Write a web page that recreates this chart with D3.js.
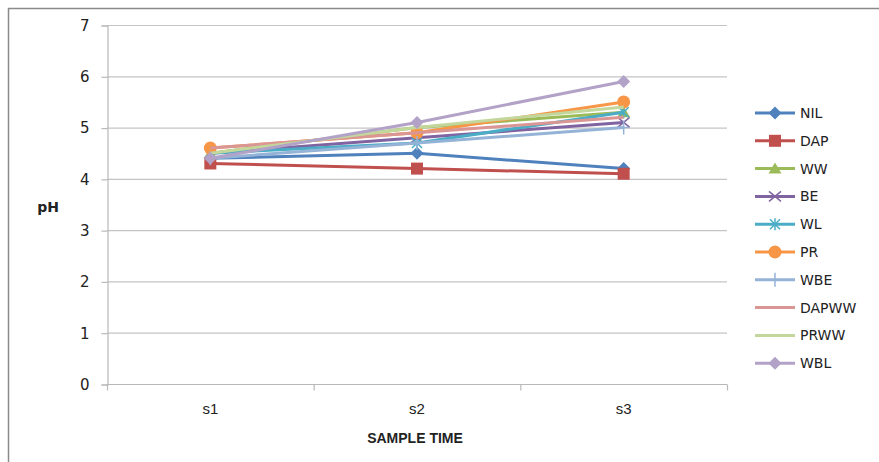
<!DOCTYPE html>
<html>
<head>
<meta charset="utf-8">
<script src="https://cdn.jsdelivr.net/npm/d3@7"></script>
<style>
  html, body { margin: 0; padding: 0; background: #fff; }
  svg { display: block; }
  text { font-family: "Liberation Sans Narrow", "Liberation Sans", Arial, sans-serif; fill: #222; }
</style>
</head>
<body>
<svg id="chart" width="879" height="462"></svg>
<script>
// Sample times on the category axis
const categories = ["s1", "s2", "s3"];
// Treatment names, in legend order
const seriesNames = ["NIL", "DAP", "WW", "BE", "WL", "PR", "WBE", "DAPWW", "PRWW", "WBL"];
// pH readings per treatment at s1, s2, s3
const NIL   = [4.4, 4.5, 4.2];
const DAP   = [4.3, 4.2, 4.1];
const WW    = [4.5, 5.0, 5.3];
const BE    = [4.5, 4.8, 5.1];
const WL    = [4.5, 4.7, 5.3];
const PR    = [4.6, 4.9, 5.5];
const WBE   = [4.4, 4.7, 5.0];
const DAPWW = [4.6, 4.9, 5.2];
const PRWW  = [4.5, 5.0, 5.4];
const WBL   = [4.4, 5.1, 5.9];
const yTicks = [0, 1, 2, 3, 4, 5, 6, 7];

const seriesValues = [NIL, DAP, WW, BE, WL, PR, WBE, DAPWW, PRWW, WBL];
const colors = ["#4F81BD", "#C0504D", "#9BBB59", "#8064A2", "#4BACC6",
                "#F79646", "#95B3D7", "#D99694", "#C3D69B", "#B3A2C7"];
const markers = ["diamond", "square", "triangle", "x", "star", "circle", "plus", "none", "none", "diamond"];

const svg = d3.select("#chart");

// outer chart frame
svg.append("path")
  .attr("d", "M8.5,470 V8.5 H890")
  .attr("fill", "none").attr("stroke", "#8a8a8a").attr("stroke-width", 1.5);

const plotLeft = 107, plotRight = 727, plotTop = 25, plotBottom = 384;

const x = d3.scaleBand().domain(categories).range([plotLeft, plotRight]);
const y = d3.scaleLinear().domain([0, 7]).range([plotBottom, plotTop]);

// horizontal gridlines
svg.append("g").selectAll("line").data(yTicks.filter(d => d > 0)).join("line")
  .attr("x1", plotLeft).attr("x2", plotRight)
  .attr("y1", d => y(d) + 0.5).attr("y2", d => y(d) + 0.5)
  .attr("stroke", "#c4c4c4").attr("stroke-width", 1.2);

// y axis
const yAxis = svg.append("g").attr("transform", `translate(${plotLeft + 0.5},0.5)`)
  .call(d3.axisLeft(y).tickValues(yTicks).tickSize(6).tickPadding(12).tickFormat(d3.format("d")));
yAxis.select(".domain").attr("stroke", "#b8b8b8").attr("stroke-width", 1.2);
yAxis.selectAll(".tick line").attr("stroke", "#b8b8b8").attr("stroke-width", 1.2);
yAxis.selectAll(".tick text").attr("font-size", 15)
  .style("font-family", "'DejaVu Sans', sans-serif").attr("fill", "#333");

// x axis with ticks between categories
const xAxisG = svg.append("g").attr("transform", `translate(0,${plotBottom + 0.5})`);
xAxisG.append("line").attr("x1", plotLeft).attr("x2", plotRight)
  .attr("stroke", "#b8b8b8").attr("stroke-width", 1.2);
const tickPos = categories.map(c => x(c)).concat([x(categories[categories.length - 1]) + x.bandwidth()]);
xAxisG.selectAll("line.tk").data(tickPos).join("line").attr("class", "tk")
  .attr("x1", d => d + 0.5).attr("x2", d => d + 0.5).attr("y1", 0).attr("y2", 6)
  .attr("stroke", "#b8b8b8").attr("stroke-width", 1.2);
xAxisG.selectAll("text").data(categories).join("text")
  .attr("x", d => x(d) + x.bandwidth() / 2).attr("y", 29)
  .attr("text-anchor", "middle").attr("font-size", 15).attr("fill", "#333")
  .text(d => d);

// axis titles
svg.append("text").attr("x", 415).attr("y", 443).attr("text-anchor", "middle")
  .attr("font-size", 14).attr("font-weight", "bold").text("SAMPLE TIME");
svg.append("text").attr("x", 48).attr("y", 212).attr("text-anchor", "middle")
  .attr("font-size", 14).attr("font-weight", "bold")
  .style("font-family", "'DejaVu Sans', sans-serif").text("pH");

const cx = c => x(c) + x.bandwidth() / 2;

function drawMarker(g, type, color) {
  if (type === "diamond") {
    g.append("path").attr("d", "M0,-6.5L6.5,0L0,6.5L-6.5,0Z").attr("fill", color);
  } else if (type === "square") {
    g.append("rect").attr("x", -6).attr("y", -6).attr("width", 12).attr("height", 12).attr("fill", color);
  } else if (type === "triangle") {
    g.append("path").attr("d", "M0,-6L6.5,5L-6.5,5Z").attr("fill", color);
  } else if (type === "circle") {
    g.append("circle").attr("r", 6.5).attr("fill", color);
  } else if (type === "x") {
    g.append("path").attr("d", "M-6,-5L6,5M-6,5L6,-5").attr("stroke", color).attr("stroke-width", 1.5);
  } else if (type === "star") {
    g.append("path").attr("d", "M-5,-5L5,5M-5,5L5,-5M0,-6V6").attr("stroke", color).attr("stroke-width", 1.5);
  } else if (type === "plus") {
    g.append("path").attr("d", "M0,-7V7M-5,0H5").attr("stroke", color).attr("stroke-width", 1.5);
  }
}

const line = d3.line().x((d, i) => cx(categories[i])).y(d => y(d));

// series lines and markers
seriesNames.forEach((name, k) => {
  const g = svg.append("g");
  g.append("path").datum(seriesValues[k]).attr("d", line)
    .attr("fill", "none").attr("stroke", colors[k]).attr("stroke-width", 3)
    .attr("stroke-linejoin", "round");
  seriesValues[k].forEach((v, i) => {
    const m = g.append("g").attr("transform", `translate(${cx(categories[i])},${y(v)})`);
    drawMarker(m, markers[k], colors[k]);
  });
});

// legend
const legend = svg.append("g");
seriesNames.forEach((name, k) => {
  const ly = 113 + k * 27.8;
  const row = legend.append("g").attr("transform", `translate(0,${ly})`);
  row.append("line").attr("x1", 755).attr("x2", 795).attr("y1", 0).attr("y2", 0)
    .attr("stroke", colors[k]).attr("stroke-width", 3);
  const m = row.append("g").attr("transform", "translate(775,0)");
  drawMarker(m, markers[k], colors[k]);
  row.append("text").attr("x", 800).attr("y", 5).attr("font-size", 14)
    .style("font-family", "'DejaVu Sans', sans-serif").attr("fill", "#333").text(name);
});
</script>
</body>
</html>
